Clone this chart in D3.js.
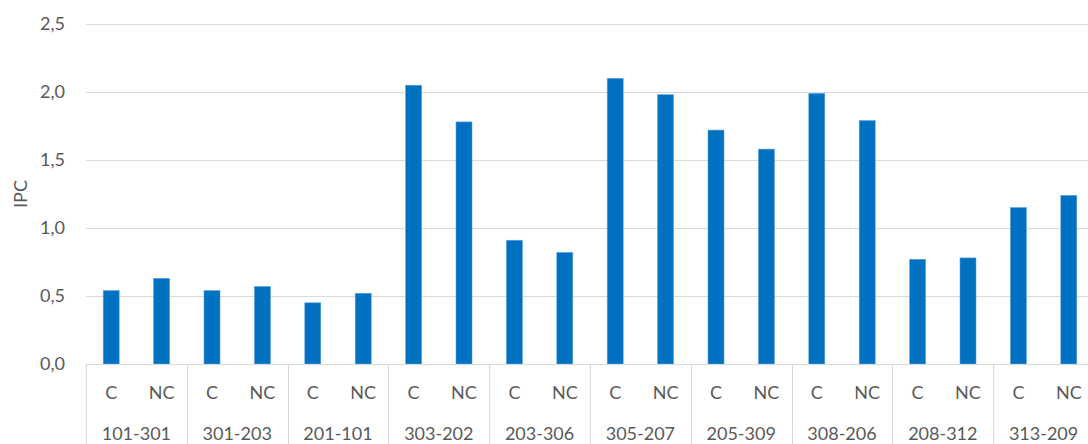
<!DOCTYPE html>
<html>
<head>
<meta charset="utf-8">
<script src="https://cdn.jsdelivr.net/npm/d3@7"></script>
<style>
  html, body { margin: 0; padding: 0; background: #fff; overflow: hidden; }
  svg { display: block; font-family: Lato, "Open Sans", sans-serif; }
</style>
</head>
<body>
<svg id="chart" width="1088" height="444"></svg>
<script>
// Route pairs and the two conditions measured for each
const groups = ["101-301", "301-203", "201-101", "303-202", "203-306",
                "305-207", "205-309", "308-206", "208-312", "313-209"];
const conditions = ["C", "NC"];
const ipcC  = [0.54, 0.54, 0.45, 2.05, 0.91, 2.10, 1.72, 1.99, 0.77, 1.15];
const ipcNC = [0.63, 0.57, 0.52, 1.78, 0.82, 1.98, 1.58, 1.79, 0.78, 1.24];
const yTicks = [0, 0.5, 1.0, 1.5, 2.0, 2.5];

const svg = d3.select("#chart");
const W = 1088, H = 444;
const plotLeft = 86, plotTop = 24, plotBottom = 364;
const groupWidth = 100.8;
const plotRight = plotLeft + groupWidth * groups.length;
const labelSize = 18;
const labelColor = "#595959";

const rows = [];
groups.forEach((g, i) => {
  rows.push({ group: g, cond: "C", value: ipcC[i] });
  rows.push({ group: g, cond: "NC", value: ipcNC[i] });
});

const x0 = d3.scaleBand().domain(groups).range([plotLeft, plotRight]);
const x1 = d3.scaleBand().domain(conditions).range([0, x0.bandwidth()]);
const y = d3.scaleLinear().domain([0, 2.5]).range([plotBottom, plotTop]);

const fmt = v => d3.format(".1f")(v).replace(".", ",");

// Horizontal gridlines
svg.append("g")
  .selectAll("line")
  .data(yTicks.filter(t => t > 0))
  .join("line")
  .attr("x1", plotLeft).attr("x2", W)
  .attr("y1", d => Math.round(y(d)) + 0.5).attr("y2", d => Math.round(y(d)) + 0.5)
  .attr("stroke", "#d9d9d9").attr("stroke-width", 1);

// Y axis labels
const yAxis = d3.axisLeft(y).tickValues(yTicks).tickFormat(fmt).tickSize(0).tickPadding(0);
const yg = svg.append("g").attr("transform", "translate(65,0)").call(yAxis);
yg.select(".domain").remove();
yg.selectAll("text")
  .attr("fill", labelColor).attr("font-size", labelSize)
  .attr("font-family", "Lato, sans-serif");

// Y axis title
svg.append("text")
  .attr("transform", "translate(26.5,194) rotate(-90)")
  .attr("text-anchor", "middle")
  .attr("fill", labelColor).attr("font-size", labelSize)
  .text("IPC");

// Bars
const barW = 16;
svg.append("g")
  .selectAll("rect")
  .data(rows)
  .join("rect")
  .attr("x", d => x0(d.group) + x1(d.cond) + x1.bandwidth() / 2 - barW / 2)
  .attr("width", barW)
  .attr("y", d => y(d.value))
  .attr("height", d => y(0) - y(d.value))
  .attr("fill", "#0070c0")
  .attr("stroke", "#5fa3e0").attr("stroke-width", 0.6);

// Category axis baseline
svg.append("line")
  .attr("x1", plotLeft).attr("x2", W)
  .attr("y1", plotBottom + 0.5).attr("y2", plotBottom + 0.5)
  .attr("stroke", "#d9d9d9").attr("stroke-width", 1);

// Group separators
svg.append("g")
  .selectAll("line")
  .data(groups.map(g => x0(g)))
  .join("line")
  .attr("x1", d => Math.round(d) + 0.5).attr("x2", d => Math.round(d) + 0.5)
  .attr("y1", plotBottom).attr("y2", H)
  .attr("stroke", "#d9d9d9").attr("stroke-width", 1);

// Condition labels
svg.append("g")
  .selectAll("text")
  .data(rows)
  .join("text")
  .attr("x", d => x0(d.group) + x1(d.cond) + x1.bandwidth() / 2)
  .attr("y", 398.5)
  .attr("text-anchor", "middle")
  .attr("fill", labelColor).attr("font-size", labelSize)
  .text(d => d.cond);

// Group labels
svg.append("g")
  .selectAll("text")
  .data(groups)
  .join("text")
  .attr("x", d => x0(d) + x0.bandwidth() / 2)
  .attr("y", 439.5)
  .attr("text-anchor", "middle")
  .attr("fill", labelColor).attr("font-size", labelSize)
  .text(d => d);
</script>
</body>
</html>
